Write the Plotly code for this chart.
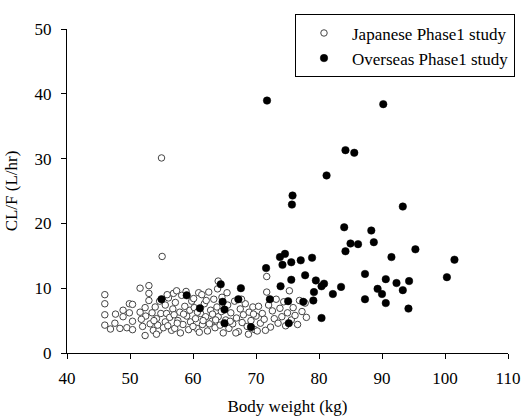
import plotly.graph_objects as go

# Japanese Phase1 study (open circles): body weight (kg), CL/F (L/hr)
jp_weight = [
    55.0, 55.1, 71.7, 64.0,
    46.0, 46.0, 46.0, 46.0, 46.9, 47.6, 47.7, 48.9, 48.9, 48.4, 49.9, 50.4, 49.9, 50.4, 49.5, 50.4,
    51.6, 53.0, 53.0, 53.0, 51.6, 52.4, 52.5, 53.2, 52.4, 53.7, 54.2, 54.6, 54.0, 54.9, 51.8, 52.0,
    53.5, 54.4, 54.7, 53.8, 54.2,
    55.6, 55.8, 55.6, 56.1, 56.9, 57.4, 56.6, 57.1, 55.3, 56.3, 56.8, 57.2, 57.6, 57.9, 58.2, 58.4,
    58.7, 59.0, 59.3, 59.5, 59.8, 58.0, 56.0, 57.5, 58.9, 59.6, 55.9, 57.0, 58.5,
    60.2, 60.4, 60.6, 60.9, 61.2, 61.5, 61.8, 62.0, 62.3, 62.5, 62.8, 63.0, 63.3, 63.5, 63.8, 64.0,
    64.3, 64.6, 64.8, 60.1, 61.0, 62.1, 63.1, 64.5, 60.7, 61.6, 62.6, 63.6, 60.0, 61.4, 63.9,
    65.2, 65.5, 65.7, 66.0, 66.3, 66.6, 66.9, 67.2, 67.5, 67.8, 68.0, 68.3, 68.6, 68.9, 69.2, 69.5,
    69.8, 70.0, 65.4, 66.8, 67.7, 68.8, 69.6, 65.9,
    70.4, 70.7, 71.0, 71.3, 71.7, 72.0, 72.3, 72.6, 72.9, 73.2, 73.5, 73.8, 74.1, 74.4, 74.7, 75.0,
    75.3, 75.6, 75.9, 76.2, 76.6, 76.9, 77.3, 77.8, 78.0, 70.2, 71.5,
]
jp_clf = [
    30.1, 14.9, 11.8, 11.1,
    9.0, 7.6, 5.9, 4.3, 3.7, 4.6, 6.0, 6.6, 5.6, 3.8, 7.6, 7.5, 6.2, 4.9, 3.9, 3.6,
    10.0, 10.4, 9.2, 8.1, 6.3, 7.0, 5.7, 4.5, 2.7, 3.5, 5.3, 3.5, 7.1, 6.1, 5.2, 4.1,
    6.2, 4.3, 8.0, 5.0, 2.9,
    7.4, 6.1, 4.8, 8.5, 9.2, 9.6, 3.5, 3.8, 3.9, 5.5, 6.8, 7.8, 5.0, 6.3, 8.9, 4.4,
    7.2, 5.7, 3.6, 6.6, 8.0, 3.1, 4.2, 4.6, 9.5, 4.8, 9.0, 5.9, 6.0,
    7.0, 5.3, 3.8, 9.3, 6.1, 4.4, 7.6, 5.6, 3.4, 9.4, 6.6, 4.9, 8.3, 3.9, 7.1, 5.6,
    4.3, 8.6, 3.1, 8.4, 3.2, 8.1, 6.0, 6.4, 6.3, 5.0, 4.5, 5.1, 4.1, 9.0, 9.9,
    5.1, 7.4, 3.8, 6.2, 4.5, 8.0, 5.4, 3.3, 6.8, 4.7, 5.9, 7.6, 4.1, 6.3, 5.0, 7.1,
    3.6, 5.7, 9.3, 3.1, 8.3, 2.9, 6.0, 4.9,
    7.2, 4.6, 6.1, 5.2, 9.4, 7.4, 4.0, 6.5, 5.3, 8.3, 4.6, 6.9, 5.6, 7.9, 4.2, 6.2,
    9.6, 5.1, 7.0, 5.8, 4.4, 8.1, 6.4, 7.7, 5.5, 3.4, 3.5,
]

# Overseas Phase1 study (filled circles)
os_weight = [
    71.75, 90.2, 84.2, 85.6, 81.2, 75.8, 75.7, 93.3, 84.0, 88.3, 85.0, 86.2, 88.7, 84.2, 95.3,
    91.5, 101.5, 100.3, 78.9, 77.1, 77.8, 87.3, 79.5, 80.8, 80.4, 83.5, 90.6, 92.3, 94.3, 89.3,
    93.3, 90.0, 79.2, 82.2, 77.5, 79.1, 87.3, 90.6, 94.2, 80.4, 73.8, 74.6, 74.2, 75.6, 71.6,
    75.6, 64.4, 67.6, 73.9, 67.2, 72.2, 75.1, 64.7, 59.0, 65.0, 61.1, 65.0, 69.2, 75.2, 55.0,
]
os_clf = [
    38.95, 38.4, 31.3, 30.9, 27.4, 24.3, 22.9, 22.6, 19.4, 18.9, 16.9, 16.8, 17.1, 15.7, 16.0,
    14.8, 14.4, 11.7, 14.7, 14.3, 12.0, 12.2, 11.2, 10.7, 10.3, 10.2, 11.4, 10.8, 11.1, 9.9,
    9.7, 9.1, 9.4, 9.1, 7.9, 8.1, 8.3, 7.7, 6.85, 5.4, 14.8, 15.3, 13.6, 14.0, 13.1,
    11.3, 10.6, 10.0, 10.3, 8.3, 8.3, 8.0, 7.9, 8.9, 6.7, 6.9, 4.6, 4.0, 4.6, 8.3,
]

x_ticks = [40, 50, 60, 70, 80, 90, 100, 110]
y_ticks = [0, 10, 20, 30, 40, 50]

FONT = "Liberation Serif"
FS = 17

fig = go.Figure()
fig.add_trace(go.Scatter(
    x=jp_weight, y=jp_clf, mode="markers", name="Japanese Phase1 study",
    legendgroup="a",
    marker=dict(symbol="circle", size=6.5, color="white",
                line=dict(color="#444444", width=1)),
))
fig.add_trace(go.Scatter(
    x=os_weight, y=os_clf, mode="markers", name="Overseas Phase1 study",
    legendgroup="b",
    marker=dict(symbol="circle", size=7.5, color="black",
                line=dict(color="black", width=0.5)),
))

axis_common = dict(
    showline=True, linecolor="black", linewidth=1, showgrid=False, zeroline=False,
    ticks="outside", ticklen=5, tickcolor="black", tickwidth=1, automargin=False,
    tickfont=dict(family=FONT, size=FS, color="black"),
)
fig.update_layout(
    width=526, height=417,
    margin=dict(l=67, r=18, t=29, b=64, autoexpand=False),
    paper_bgcolor="white", plot_bgcolor="white",
    font=dict(family=FONT, size=FS, color="black"),
    xaxis=dict(range=[40, 110], tickvals=x_ticks, ticklabelstandoff=5,
               title=dict(text="Body weight (kg)", font=dict(family=FONT, size=FS), standoff=12),
               **axis_common),
    yaxis=dict(range=[0, 50], tickvals=y_ticks, ticklabelstandoff=6,
               title=dict(text="CL/F (L/hr)", font=dict(family=FONT, size=FS), standoff=12),
               **axis_common),
    legend=dict(x=0.517, y=1.045, xanchor="left", yanchor="top",
                bordercolor="black", borderwidth=1, bgcolor="white",
                font=dict(family=FONT, size=FS, color="black"),
                tracegroupgap=0, itemwidth=46),
    showlegend=True,
)

fig.write_html("out.html", config={"displayModeBar": False},
               post_script="document.body.style.margin='0';")
